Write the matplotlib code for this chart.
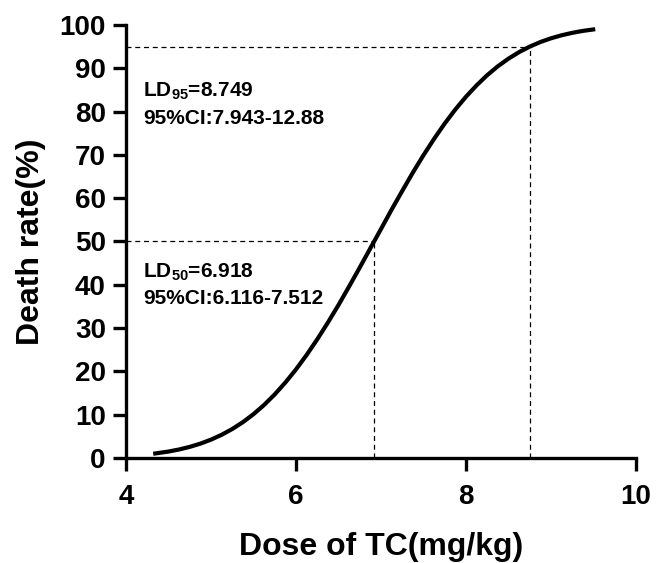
import matplotlib
matplotlib.use("Agg")
import matplotlib.pyplot as plt

plt.rcParams['font.family'] = ['Liberation Sans', 'Noto Sans CJK SC', 'DejaVu Sans']
plt.rcParams['font.weight'] = 'bold'
plt.rcParams['mathtext.fontset'] = 'custom'
plt.rcParams['mathtext.bf'] = 'Liberation Sans:bold'
plt.rcParams['mathtext.rm'] = 'Liberation Sans:bold'

# Curve values
dose = [4.32, 4.5, 4.625, 4.75, 4.875, 5.0, 5.125, 5.25, 5.375, 5.5, 5.625, 5.75,
        5.875, 6.0, 6.125, 6.25, 6.375, 6.5, 6.625, 6.75, 6.875, 7.0, 7.125,
        7.25, 7.375, 7.5, 7.625, 7.75, 7.875, 8.0, 8.125, 8.25, 8.375, 8.5,
        8.625, 8.75, 8.875, 9.0, 9.125, 9.25, 9.375, 9.52]
death = [0.98, 1.49, 1.97, 2.57, 3.32, 4.24, 5.36, 6.70, 8.28, 10.13, 12.26, 14.70,
         17.44, 20.47, 23.81, 27.42, 31.28, 35.35, 39.63, 44.00, 48.46, 52.9, 57.38,
         61.7, 65.94, 69.95, 73.73, 77.27, 80.51, 83.45, 86.08, 88.43, 90.48, 92.24,
         93.75, 95.01, 96.07, 96.93, 97.63, 98.19, 98.64, 99.03]

ld50, ld95 = 6.918, 8.749
x_ticks = [4, 6, 8, 10]
y_ticks = list(range(0, 101, 10))

fig = plt.figure(figsize=(6.57, 5.63), dpi=100)
ax = fig.add_axes([0.1918, 0.1865, 0.7763, 0.7691])

ax.plot(dose, death, color='black', lw=3.0, solid_capstyle='butt',
        solid_joinstyle='round', zorder=3)

dash = dict(color='black', lw=0.9, linestyle=(0, (4, 3)), zorder=2)
ax.plot([4, ld50], [50, 50], **dash)
ax.plot([ld50, ld50], [0, 50], **dash)
ax.plot([4, ld95], [95, 95], **dash)
ax.plot([ld95, ld95], [0, 95], **dash)

ax.set_xlim(4, 10)
ax.set_ylim(0, 100)
ax.set_xticks(x_ticks)
ax.set_yticks(y_ticks)
ax.set_xticklabels([str(t) for t in x_ticks], fontsize=20, fontweight='bold')
ax.set_yticklabels([str(t) for t in y_ticks], fontsize=20, fontweight='bold')

for s in ['top', 'right']:
    ax.spines[s].set_visible(False)
for s in ['left', 'bottom']:
    ax.spines[s].set_linewidth(2.4)
ax.tick_params(axis='both', width=2.4, length=9.5)
ax.tick_params(axis='y', pad=5)
ax.tick_params(axis='x', pad=9)

ax.set_xlabel('Dose of TC(mg/kg)', fontsize=23, fontweight='bold', labelpad=16)
ax.set_ylabel('Death rate(%)', fontsize=23, fontweight='bold', labelpad=10)

tkw = dict(fontsize=15, fontweight='bold', va='baseline', ha='left')
ax.text(4.2, 83.4, 'LD$_{\\mathbf{95}}$=8.749', **tkw)
ax.text(4.2, 77.1, '95%CI:7.943-12.88', **tkw)
ax.text(4.2, 41.8, 'LD$_{\\mathbf{50}}$=6.918', **tkw)
ax.text(4.2, 35.6, '95%CI:6.116-7.512', **tkw)

fig.savefig('out.png', dpi=100)
